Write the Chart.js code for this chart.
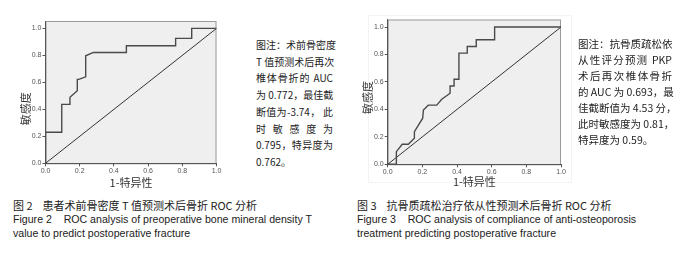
<!DOCTYPE html>
<html>
<head>
<meta charset="utf-8">
<script src="https://cdn.jsdelivr.net/npm/chart.js@4"></script>
<style>
  body { margin: 0; width: 693px; height: 259px; background: #fff; overflow: hidden; position: relative;
         font-family: "Liberation Sans", Arial, sans-serif; }
  .box { position: absolute; }
  .note { position: absolute; font-family: "Noto Sans CJK SC", sans-serif; color: #222; }
  .note div { text-align: justify; text-align-last: justify; white-space: nowrap; }
  .note div.last { text-align-last: left; }
  .cap { position: absolute; color: #222; }
  .cap div { white-space: pre; }
  .cap .zh { font-family: "Noto Sans CJK SC", sans-serif; font-size: 11px; line-height: 16px; }
  .cap .en { font-size: 10.6px; line-height: 13.5px; }
  .frame { position: absolute; left: 368px; top: 15px; width: 202px; height: 166px; border: 1px solid #f3f3f3; }
</style>
</head>
<body>
<div class="frame"></div>
<div class="box" style="left:0;top:0;width:235px;height:195px"><canvas id="roc1"></canvas></div>
<div class="box" style="left:340px;top:0;width:240px;height:195px"><canvas id="roc2"></canvas></div>

<div class="note" style="left:256px;top:37px;width:77px;font-size:10px;line-height:16.7px">
  <div>图注：术前骨密度</div>
  <div>T 值预测术后再次</div>
  <div>椎体骨折的 AUC</div>
  <div>为 0.772，最佳截</div>
  <div>断值为-3.74， 此</div>
  <div>时 敏 感 度 为</div>
  <div>0.795，特异度为</div>
  <div class="last">0.762。</div>
</div>

<div class="note" style="left:578px;top:36px;width:94px;font-size:10.5px;line-height:16px">
  <div>图注：抗骨质疏松依</div>
  <div>从性评分预测 PKP</div>
  <div>术后再次椎体骨折</div>
  <div>的 AUC 为 0.693，最</div>
  <div>佳截断值为 4.53 分，</div>
  <div>此时敏感度为 0.81，</div>
  <div class="last">特异度为 0.59。</div>
</div>

<div class="cap" style="left:13px;top:197px">
  <div class="zh">图 2    患者术前骨密度 T 值预测术后骨折 ROC 分析</div>
  <div class="en">Figure 2    ROC analysis of preoperative bone mineral density T</div>
  <div class="en">value to predict postoperative fracture</div>
</div>
<div class="cap" style="left:357px;top:197px">
  <div class="zh">图 3    抗骨质疏松治疗依从性预测术后骨折 ROC 分析</div>
  <div class="en">Figure 3    ROC analysis of compliance of anti-osteoporosis</div>
  <div class="en">treatment predicting postoperative fracture</div>
</div>

<script>
// ROC curve points
const roc1X = [0, 0, 0.095, 0.095, 0.143, 0.143, 0.186, 0.186, 0.195, 0.235, 0.235, 0.28, 0.473, 0.473, 0.761, 0.761, 0.855, 0.855, 1];
const roc1Y = [0, 0.23, 0.23, 0.437, 0.437, 0.489, 0.538, 0.622, 0.622, 0.641, 0.797, 0.822, 0.822, 0.871, 0.871, 0.926, 0.926, 1, 1];

const roc2X = [0, 0.05, 0.05, 0.084, 0.119, 0.154, 0.154, 0.202, 0.206, 0.234, 0.283, 0.312, 0.36, 0.36, 0.383, 0.383, 0.411, 0.411, 0.459, 0.459, 0.511, 0.511, 0.617, 0.617, 1];
const roc2Y = [0, 0, 0.092, 0.146, 0.146, 0.19, 0.238, 0.336, 0.396, 0.431, 0.431, 0.474, 0.518, 0.571, 0.571, 0.62, 0.62, 0.81, 0.81, 0.858, 0.858, 0.907, 0.907, 1, 1];

const diagX = [0, 1];
const diagY = [0, 1];

const tickValues = [0, 0.2, 0.4, 0.6, 0.8, 1.0];
const tickLabels = ['0.0', '0.2', '0.4', '0.6', '0.8', '1.0'];

const xTitle = '1-特异性';
const yTitle = '敏感度';

const pts = (xs, ys) => xs.map((x, i) => ({ x: x, y: ys[i] }));

// grey plot box like SPSS output
const plotBox = {
  id: 'plotBox',
  beforeDraw(chart) {
    const { ctx, chartArea: a } = chart;
    ctx.save();
    ctx.fillStyle = '#efefef';
    ctx.fillRect(a.left, a.top, a.right - a.left, a.bottom - a.top);
    ctx.strokeStyle = '#9a9a9a';
    ctx.lineWidth = 1;
    ctx.strokeRect(a.left + 0.5, a.top + 0.5, a.right - a.left - 1, a.bottom - a.top);
    ctx.restore();
  }
};

function makeChart(id, xs, ys, g) {
  const tickFont = { family: 'Liberation Sans', size: 7 };
  const titleFont = { family: 'Noto Sans CJK SC', size: 11 };
  const setTicks = scale => { scale.ticks = tickValues.map(v => ({ value: v })); };
  return new Chart(document.getElementById(id), {
    type: 'line',
    data: {
      datasets: [
        { data: pts(xs, ys), borderColor: '#4a4a4a', borderWidth: 1.4, pointRadius: 0, tension: 0 },
        { data: pts(diagX, diagY), borderColor: '#333', borderWidth: 1, pointRadius: 0 }
      ]
    },
    options: {
      responsive: false,
      animation: false,
      events: [],
      layout: { padding: { left: 0, right: g.padRight, top: g.padTop, bottom: 0 } },
      plugins: { legend: { display: false }, tooltip: { enabled: false } },
      scales: {
        x: {
          type: 'linear', min: 0, max: 1,
          afterBuildTicks: setTicks,
          afterFit: s => { s.height = g.xAxisH; },
          grid: { drawOnChartArea: false, tickLength: 3, color: '#555' },
          border: { color: '#555' },
          ticks: { font: tickFont, color: '#555', padding: 1, maxRotation: 0,
                   callback: (v, i) => tickLabels[i] },
          title: { display: true, text: xTitle, font: titleFont, color: '#333',
                   padding: { top: 0, bottom: g.xTitlePad } }
        },
        y: {
          type: 'linear', min: 0, max: 1.055,
          afterBuildTicks: setTicks,
          afterFit: s => { s.width = g.yAxisW; },
          grid: { drawOnChartArea: false, tickLength: 3, color: '#555' },
          border: { color: '#555' },
          ticks: { font: tickFont, color: '#555', padding: 1,
                   callback: (v, i) => tickLabels[i] },
          title: { display: true, text: yTitle + g.yTitleTail, font: titleFont, color: '#333',
                   padding: { top: g.yTitlePad, bottom: 0 } }
        }
      }
    },
    plugins: [plotBox]
  });
}

function sizeCanvas(id, w, h) {
  const c = document.getElementById(id);
  c.width = w; c.height = h;
  c.style.width = w + 'px'; c.style.height = h + 'px';
}

sizeCanvas('roc1', 235, 195);
sizeCanvas('roc2', 240, 195);

makeChart('roc1', roc1X, roc1Y, {
  padRight: 18.5, padTop: 21, xAxisH: 31.7, yAxisW: 45.5,
  xTitlePad: 5.4, yTitlePad: 19, yTitleTail: '\u3000\u3000\u3000'
});
makeChart('roc2', roc2X, roc2Y, {
  padRight: 19, padTop: 19.5, xAxisH: 30.7, yAxisW: 47.7,
  xTitlePad: 6.7, yTitlePad: 21, yTitleTail: '\u3000'
});
</script>
</body>
</html>
